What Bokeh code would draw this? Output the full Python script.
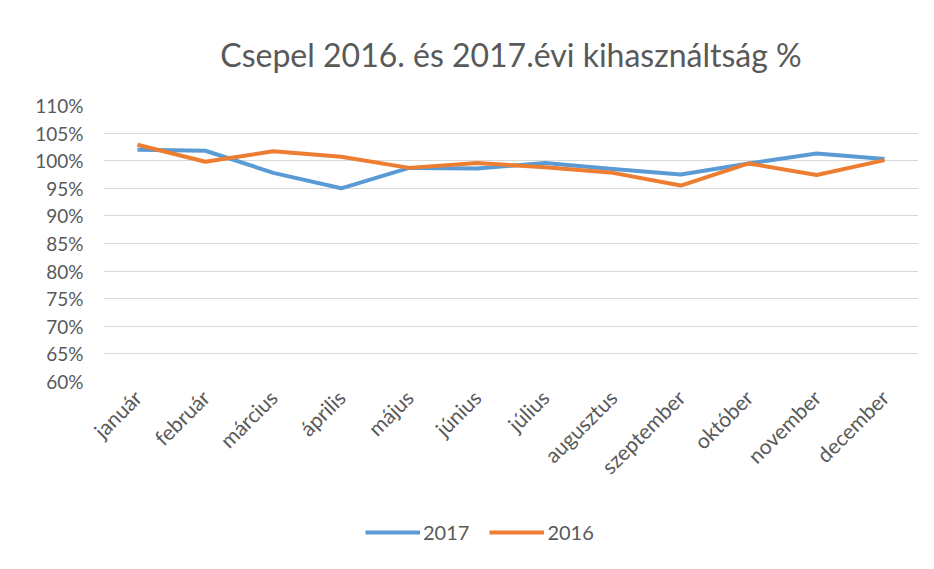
from bokeh.plotting import figure
from bokeh.layouts import column
from bokeh.models import ColumnDataSource, Legend, LegendItem, NumeralTickFormatter, FixedTicker, Title
from bokeh.embed import file_html
from bokeh.resources import INLINE
import math

months = ["január", "február", "március", "április", "május", "június",
          "július", "augusztus", "szeptember", "október", "november", "december"]
y2017 = [1.020, 1.018, 0.978, 0.950, 0.987, 0.986, 0.996, 0.985, 0.975, 0.995, 1.013, 1.003]
y2016 = [1.029, 0.998, 1.017, 1.007, 0.987, 0.996, 0.988, 0.978, 0.955, 0.995, 0.974, 1.001]
y_ticks = [0.60, 0.65, 0.70, 0.75, 0.80, 0.85, 0.90, 0.95, 1.00, 1.05, 1.10]
series_names = ["2017", "2016"]
colors = ["#5B9BD5", "#ED7D31"]

TXT = "#595959"
FONT = "Lato"

p = figure(width=918, height=500, x_range=months, y_range=(0.60, 1.10),
           output_backend="svg", toolbar_location=None,
           min_border_left=103, min_border_right=0, min_border_top=104, min_border_bottom=119)
p.outline_line_color = None

t = Title(text="Csepel 2016. és 2017.évi kihasználtság %", align="center",
          text_font=FONT, text_font_size="32px", text_color=TXT, text_font_style="normal",
          standoff=64)
p.add_layout(t, "above")

src = ColumnDataSource(dict(m=months, a=y2017, b=y2016))
p.line("m", "a", source=src, line_color=colors[0], line_width=4, line_join="round")
p.line("m", "b", source=src, line_color=colors[1], line_width=4, line_join="round")

p.yaxis.ticker = FixedTicker(ticks=y_ticks)
p.yaxis.formatter = NumeralTickFormatter(format="0%")
for ax in (p.xaxis, p.yaxis):
    ax.axis_line_color = None
    ax.major_tick_line_color = None
    ax.minor_tick_line_color = None
    ax.major_label_text_font = FONT
    ax.major_label_text_color = TXT
p.yaxis.major_label_text_font_size = "19px"
p.xaxis.major_label_text_font_size = "21px"
p.yaxis.major_label_standoff = 14
p.xaxis.major_label_orientation = math.pi / 4
p.xaxis.major_label_standoff = 6
p.xgrid.grid_line_color = None
p.ygrid.grid_line_color = "#d9d9d9"
p.ygrid.grid_line_width = 1

# legend strip below the chart
lg = figure(width=918, height=53, x_range=(0, 1), y_range=(0, 1),
            output_backend="svg", toolbar_location=None,
            x_axis_type=None, y_axis_type=None, min_border=0)
lg.outline_line_color = None
lg.grid.visible = False
l17 = lg.line(x=[-5, -4], y=[-5, -5], line_color=colors[0], line_width=4)
l16 = lg.line(x=[-5, -4], y=[-5, -5], line_color=colors[1], line_width=4)
legend = Legend(items=[LegendItem(label=series_names[0], renderers=[l17]),
                       LegendItem(label=series_names[1], renderers=[l16])],
                orientation="horizontal", location=(262, 9),
                label_text_font=FONT, label_text_font_size="20px", label_text_color=TXT,
                glyph_width=55, label_standoff=3, border_line_color=None,
                background_fill_alpha=0, spacing=20, padding=0, margin=0)
lg.add_layout(legend)

layout = column(p, lg, spacing=0)
open("out.html", "w").write(file_html(layout, INLINE))
